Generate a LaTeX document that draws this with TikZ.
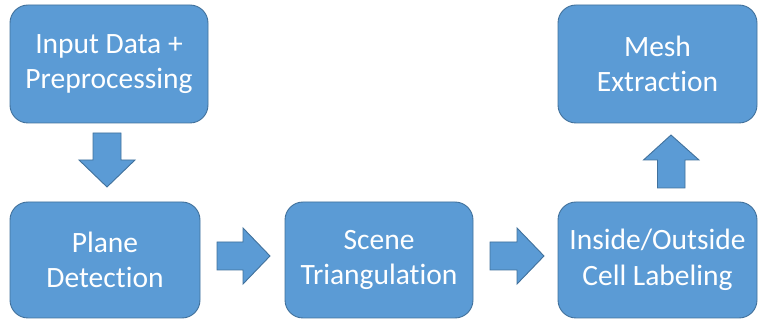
\documentclass[tikz,border=0pt]{standalone}
\usepackage{fontspec}
\setmainfont{Carlito}[Ligatures=NoCommon]
\definecolor{boxfill}{HTML}{5B9BD5}
\definecolor{boxline}{HTML}{41719C}
\begin{document}
\begin{tikzpicture}[x=1pt,y=-1pt,
  stage/.style={draw=boxline, line width=0.9pt, fill=boxfill, rounded corners=18pt,
    text=white, align=center, inner sep=0pt,
    font=\fontsize{29.5}{35.5}\selectfont},
  blockarrow/.style={draw=boxline, line width=0.9pt, fill=boxfill}]
\useasboundingbox (0,0) rectangle (758,320);
\node[stage, minimum width=198pt, minimum height=118pt] (in) at (109,64) {Input Data +\\Preprocessing};
\node[stage, minimum width=190pt, minimum height=116pt] (plane) at (105,260) {Plane\\Detection};
\node[stage, minimum width=188pt, minimum height=116pt] (scene) at (379,260) {Scene\\Triangulation};
\node[stage, minimum width=199pt, minimum height=116pt] (cell) at (657.5,260) {Inside/Outside\\Cell Labeling};
\node[stage, minimum width=199pt, minimum height=118pt] (mesh) at (657.5,64) {Mesh\\Extraction};
% down arrow
\coordinate (d1) at (107,133);
\draw[blockarrow] (d1) ++(-14,0) -- ++(0,27) -- ++(-14,0) -- (107,187) -- (135,160) -- ++(-14,0) -- ++(0,-27) -- cycle;
% right arrow 1
\coordinate (r1) at (217,256);
\draw[blockarrow] (r1) ++(0,-14) -- ++(26,0) -- ++(0,-14) -- (270,256) -- (243,284) -- ++(0,-14) -- ++(-26,0) -- cycle;
% right arrow 2
\coordinate (r2) at (490,256);
\draw[blockarrow] (r2) ++(0,-14) -- ++(27,0) -- ++(0,-14) -- (544,256) -- (517,284) -- ++(0,-14) -- ++(-27,0) -- cycle;
% up arrow
\coordinate (u1) at (671,188);
\draw[blockarrow] (u1) ++(-13.5,0) -- ++(0,-28) -- ++(-14,0) -- (671,135) -- (699,160) -- ++(-14,0) -- ++(0,28) -- cycle;
\end{tikzpicture}
\end{document}
